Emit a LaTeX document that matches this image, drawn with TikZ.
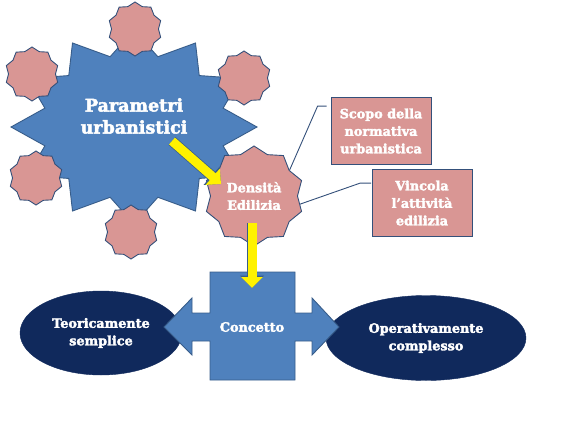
\documentclass[tikz,border=0pt]{standalone}
\usepackage{fontspec}
\setmainfont{DejaVu Serif}[BoldFeatures={FakeBold=2.6}]
\definecolor{pbblue}{HTML}{4F81BD}
\definecolor{pbedge}{HTML}{385D8A}
\definecolor{pbpink}{HTML}{D99694}
\definecolor{pbnavy}{HTML}{10295C}
\definecolor{pbline}{HTML}{34507A}
\usetikzlibrary{arrows.meta,shapes.geometric,positioning}

\begin{document}
\begin{tikzpicture}[x=1pt,y=-1pt,
  wtext/.style={text=white,align=center,font=\fontsize{12.8}{17.5}\selectfont\bfseries},
  bigstar/.style={fill=pbblue,draw=pbedge,line width=0.9pt},
  smallstar/.style={star,star points=10,star point ratio=1.15,minimum size=54pt,
    inner sep=0pt,fill=pbpink,draw=pbline,line width=0.9pt},
  densstar/.style={smallstar,wtext,minimum size=100pt},
  oval/.style={ellipse,fill=pbnavy,draw=pbnavy,wtext,inner sep=0pt},
  cross/.style={fill=pbblue,draw=pbedge,line width=0.9pt},
  note/.style={draw=pbline,fill=pbpink,line width=1pt,wtext,
    minimum width=100pt,minimum height=67pt,inner sep=2pt},
  callout/.style={draw=pbline,line width=0.9pt},
  yarrow/.style={draw=yellow,line width=9pt,-{Triangle[length=11pt,width=21pt]},
    preaction={draw=pbedge,line width=10.5pt,-{Triangle[length=12.5pt,width=23.5pt]}}}]
  \useasboundingbox (0,0) rectangle (570,428);
  \draw[bigstar] plot[samples at={0,15,...,345}]
    ({134+123*(1-0.25*mod(\x/15,2))*cos(\x)},{127+97*(1-0.25*mod(\x/15,2))*sin(\x)}) -- cycle;
  \node[wtext,font=\fontsize{17.5}{22}\selectfont\bfseries] (param) at (134,116) {Parametri\\urbanistici};
  \foreach \px/\py [count=\i] in {135/29,32/74,244/78,36/178,131/232}
    \node[smallstar] (s\i) at (\px,\py) {};
  \node[densstar] (dens) at (254,196) {Densità\\Edilizia};
  \node[oval,minimum width=162pt,minimum height=84pt] (teo) at (101,333) {Teoricamente\\semplice};
  \node[oval,minimum width=200pt,minimum height=85pt] (ope) at (426,338) {Operativamente\\complesso};
  \draw[cross] (210,272) -- (295,272) -- (295,313) -- (312,313) -- (312,298) -- (339,327)
    -- (312,355) -- (312,341) -- (295,341) -- (295,380) -- (210,380) -- (210,341)
    -- (192,341) -- (192,355) -- (164,327) -- (192,298) -- (192,313) -- (210,313) -- cycle;
  \node[wtext] (conc) at (252,327) {Concetto};
  \coordinate (ytail) at (172,141);
  \coordinate (yhead) at (221,184);
  \coordinate (dtail) at (252,223);
  \coordinate (dhead) at (252,288);
  \draw[yarrow] (ytail) -- (yhead);
  \draw[yarrow] (dtail) -- (dhead);
  \node[note] (scopo) at (381,131) {Scopo della\\normativa\\urbanistica};
  \node[note] (vinc) at (422,203) {Vincola\\l’attività\\edilizia};
  \draw[callout] (dens.36) -- ++(28,-64) -- ++(9,0);
  \draw[callout] (dens.-10) -- ++(60,-21) -- ++(11,0);
\end{tikzpicture}
\end{document}
